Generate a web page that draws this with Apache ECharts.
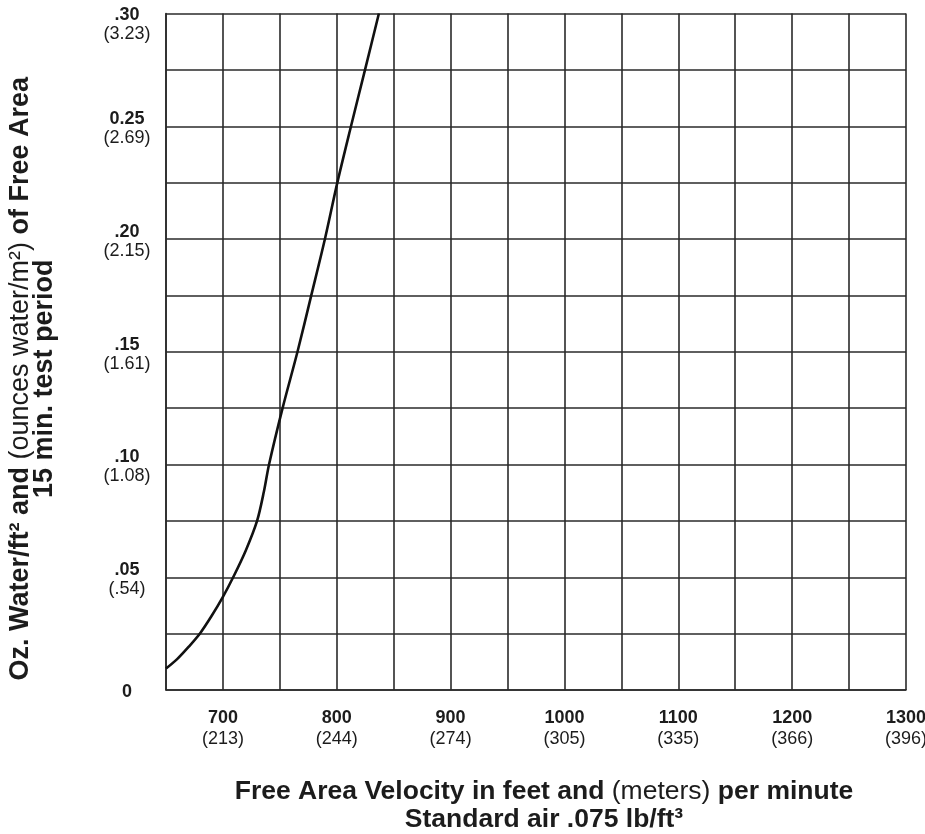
<!DOCTYPE html>
<html>
<head>
<meta charset="utf-8">
<script src="https://cdn.jsdelivr.net/npm/echarts@6/dist/echarts.min.js"></script>
<style>
html,body{margin:0;padding:0;background:#fff;}
#chart{width:925px;height:834px;}
</style>
</head>
<body>
<div id="chart"></div>
<script>
// Free area velocity (ft/min) and water carryover (oz/ft²)
const velocity = [650, 660, 670, 680, 690, 700, 709, 720, 730, 736, 740.5, 752.4, 765.5, 777.6, 789.6, 800.5, 812.5, 824.8, 837];
const water = [0.0095, 0.0138, 0.0192, 0.0252, 0.0328, 0.0413, 0.05, 0.0618, 0.075, 0.088, 0.1, 0.125, 0.15, 0.175, 0.2, 0.225, 0.25, 0.275, 0.3];

// X tick labels: feet/min and (meters/min)
const xTickValues = [700, 800, 900, 1000, 1100, 1200, 1300];
const xTickMetric = ['(213)', '(244)', '(274)', '(305)', '(335)', '(366)', '(396)'];

// Y tick labels: oz/ft² and (oz/m²)
const yTickValues = [0, 0.05, 0.10, 0.15, 0.20, 0.25, 0.30];
const yTickText = ['0', '.05', '.10', '.15', '.20', '0.25', '.30'];
const yTickMetric = ['', '(.54)', '(1.08)', '(1.61)', '(2.15)', '(2.69)', '(3.23)'];

const FONT = '"Liberation Sans", Arial, Helvetica, sans-serif';
const INK = '#1c1c1c';
const GRID = '#2a2a2a';

const chart = echarts.init(document.getElementById('chart'), null, {renderer: 'canvas'});

const data = velocity.map((v, i) => [v, water[i]]);

chart.setOption({
  backgroundColor: '#ffffff',
  animation: false,
  grid: {left: 166, right: 19, top: 13.5, bottom: 144, containLabel: false, outerBoundsMode: 'none'},
  xAxis: {
    type: 'value',
    min: 650, max: 1300, interval: 50,
    axisLine: {show: true, lineStyle: {color: GRID, width: 1.6}},
    axisTick: {show: false},
    splitLine: {show: true, lineStyle: {color: GRID, width: 1.6}},
    axisLabel: {
      margin: 18,
      color: INK,
      fontFamily: FONT,
      showMinLabel: false,
      showMaxLabel: true,
      formatter: function (v) {
        const i = xTickValues.indexOf(Math.round(v));
        if (i < 0) return '';
        return '{b|' + xTickValues[i] + '}\n{m|' + xTickMetric[i] + '}';
      },
      rich: {
        b: {fontFamily: FONT, fontWeight: 'bold', fontSize: 18, lineHeight: 21, color: INK},
        m: {fontFamily: FONT, fontSize: 18, lineHeight: 21, color: INK}
      }
    },
    name: '{b|Free Area Velocity in feet and }{r|(meters)}{b| per minute}\n{b|Standard air .075 lb/ft³}',
    nameLocation: 'middle',
    nameGap: 88,
    nameTextStyle: {
      color: INK,
      fontFamily: FONT,
      padding: [0, 0, 0, 16],
      rich: {
        b: {fontFamily: FONT, fontWeight: 'bold', fontSize: 26.5, lineHeight: 28, color: INK},
        r: {fontFamily: FONT, fontSize: 26.5, lineHeight: 28, color: INK}
      }
    }
  },
  yAxis: {
    type: 'value',
    min: 0, max: 0.3, interval: 0.025,
    axisLine: {show: true, lineStyle: {color: GRID, width: 1.6}},
    axisTick: {show: false},
    splitLine: {show: true, lineStyle: {color: GRID, width: 1.6}},
    axisLabel: {
      margin: 39,
      align: 'center',
      color: INK,
      fontFamily: FONT,
      lineHeight: 19,
      padding: [5, 0, 0, 0],
      showMinLabel: true,
      showMaxLabel: true,
      formatter: function (v) {
        const k = Math.round(v * 1000);
        const i = yTickValues.findIndex(t => Math.round(t * 1000) === k);
        if (i < 0) return '';
        if (!yTickMetric[i]) return '{b|' + yTickText[i] + '}';
        if (i === yTickValues.length - 1) return '{e| }\n{b|' + yTickText[i] + '}\n{m|' + yTickMetric[i] + '}';
        return '{b|' + yTickText[i] + '}\n{m|' + yTickMetric[i] + '}';
      },
      rich: {
        b: {fontFamily: FONT, fontWeight: 'bold', fontSize: 18, lineHeight: 19, color: INK},
        m: {fontFamily: FONT, fontSize: 18, lineHeight: 19, color: INK},
        e: {fontFamily: FONT, fontSize: 18, lineHeight: 18, color: INK}
      }
    },
    name: '{b|Oz. Water/ft² and }{r|(ounces water/m²)}{b| of Free Area}\n{b|15 min. test period}',
    nameLocation: 'middle',
    nameRotate: 90,
    nameGap: 109,
    nameTextStyle: {
      color: INK,
      fontFamily: FONT,
      padding: [0, 54, 0, 0],
      rich: {
        b: {fontFamily: FONT, fontWeight: 'bold', fontSize: 27, lineHeight: 24, color: INK},
        r: {fontFamily: FONT, fontSize: 27, lineHeight: 24, color: INK}
      }
    }
  },
  series: [{
    type: 'line',
    data: data,
    showSymbol: false,
    smooth: 0.3,
    clip: true,
    lineStyle: {color: '#111', width: 2.6, join: 'round'},
    silent: true
  }]
});
</script>
</body>
</html>
